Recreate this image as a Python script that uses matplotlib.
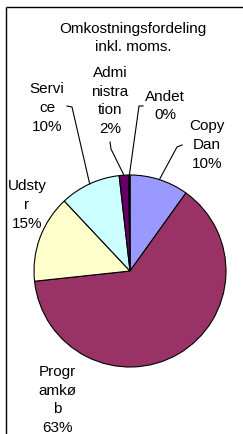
import numpy as np
import matplotlib
matplotlib.use("Agg")
import matplotlib.pyplot as plt

# ---- data ----
categories = ["Copy Dan", "Programkøb", "Udstyr", "Service", "Administration", "Andet"]
values = [9.9, 63.4, 14.7, 10.2, 1.6, 0.2]
label_texts = ["Copy\nDan\n10%", "Progr\namkø\nb\n63%", "Udsty\nr\n15%",
               "Servi\nce\n10%", "Admi\nnistra\ntion\n2%", "Andet\n0%"]
colors = ["#9999FF", "#993366", "#FFFFCC", "#CCFFFF", "#660066", "#FF8080"]
title = "Omkostningsfordeling\ninkl. moms."

plt.rcParams['font.family'] = ['Liberation Sans', 'DejaVu Sans']

W, H = 243, 435
fig = plt.figure(figsize=(W / 100, H / 100), dpi=100)
ax = fig.add_axes([0, 0, 1, 1])

cx, cy, R = 130, 272, 96
# pie drawn in inverted-y axes: counterclock=True gives visual clockwise
wedges, _ = ax.pie(values, center=(cx, cy), radius=R, startangle=-90,
                   counterclock=True, colors=colors,
                   wedgeprops=dict(edgecolor="black", linewidth=0.8),
                   frame=True)
ax.set_xlim(0, W)
ax.set_ylim(H, 0)
ax.set_aspect("equal")
ax.axis("off")

# label layout (pixel positions) and leader bend points
label_pos = [(207, 145), (57, 400), (27, 205), (47, 108), (110, 101), (165, 106)]
leaders = {
    0: [(182, 146), (177, 148)],
    3: [(67, 107), (72, 108)],
    4: [(110, 143), (111, 150)],
    5: [(143, 107), (139, 107)],
}

LS = 1.45
for i, (txt, (x, y)) in enumerate(zip(label_texts, label_pos)):
    ax.text(x, y, txt, ha="center", va="center", fontsize=11,
            linespacing=LS, color="black")
    if i in leaders:
        w = wedges[i]
        mid = np.deg2rad((w.theta1 + w.theta2) / 2)
        ex = cx + R * np.cos(mid)
        ey = cy + R * np.sin(mid)
        pts = leaders[i] + [(ex, ey)]
        ax.plot([p[0] for p in pts], [p[1] for p in pts], color="black", lw=0.8)

ax.text(133, 38, title, ha="center", va="center", fontsize=11, linespacing=LS)

# chart border
ax.plot([6, 6], [H, 8], color="black", lw=1, solid_capstyle="butt")
ax.plot([6, W], [8, 8], color="black", lw=1, solid_capstyle="butt")

fig.savefig("out.png", dpi=100)
